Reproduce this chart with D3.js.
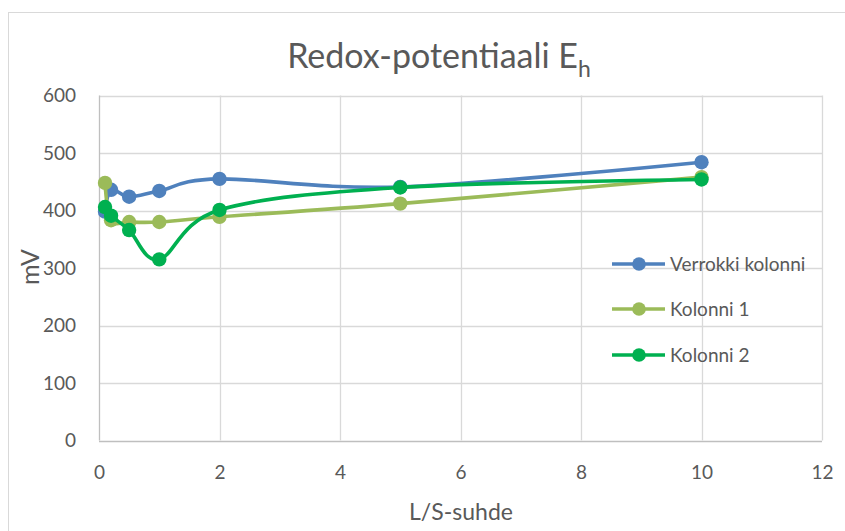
<!DOCTYPE html>
<html>
<head>
<meta charset="utf-8">
<script src="https://cdn.jsdelivr.net/npm/d3@7"></script>
<style>
  html, body { margin: 0; padding: 0; background: #fff; }
  svg { display: block; }
  text { font-family: Lato, "Open Sans", sans-serif; fill: #595959; }
</style>
</head>
<body>
<svg id="chart" width="845" height="531"></svg>
<script>
// L/S ratio at each sampling point
const lsRatio = [0.1, 0.2, 0.5, 1, 2, 5, 10];

// Redox potential (mV) per column
const verrokki = [398, 436, 424, 434, 455, 441, 484];
const kolonni1 = [448, 383, 380, 380, 389, 412, 458];
const kolonni2 = [406, 391, 366, 315, 401, 440, 454];

const seriesNames = ["Verrokki kolonni", "Kolonni 1", "Kolonni 2"];
const seriesColors = ["#4f81bd", "#9bbb59", "#00b050"];
const seriesValues = [verrokki, kolonni1, kolonni2];

const xTicks = [0, 2, 4, 6, 8, 10, 12];
const yTicks = [0, 100, 200, 300, 400, 500, 600];

const svg = d3.select("#chart");

// outer chart frame
svg.append("rect")
  .attr("x", 8.5).attr("y", 12.5)
  .attr("width", 845).attr("height", 531)
  .attr("fill", "none").attr("stroke", "#d9d9d9").attr("stroke-width", 1);

const plot = { left: 99, right: 822, top: 95.5, bottom: 440.5 };

const x = d3.scaleLinear().domain([0, 12]).range([plot.left, plot.right]);
const y = d3.scaleLinear().domain([0, 600]).range([plot.bottom, plot.top]);

// gridlines
const grid = svg.append("g");
grid.selectAll("line.h").data(yTicks).join("line")
  .attr("x1", plot.left).attr("x2", plot.right)
  .attr("y1", d => Math.round(y(d)) + 0.5).attr("y2", d => Math.round(y(d)) + 0.5)
  .attr("stroke", d => d === 0 ? "#bfbfbf" : "#d9d9d9").attr("stroke-width", 1.3);
grid.selectAll("line.v").data(xTicks).join("line")
  .attr("y1", plot.top).attr("y2", plot.bottom)
  .attr("x1", d => Math.round(x(d)) + 0.5).attr("x2", d => Math.round(x(d)) + 0.5)
  .attr("stroke", d => d === 0 ? "#bfbfbf" : "#d9d9d9").attr("stroke-width", 1.3);

// axis tick labels via d3 axes (lines hidden, labels only)
const yAxis = svg.append("g")
  .attr("transform", `translate(${plot.left},0)`)
  .call(d3.axisLeft(y).tickValues(yTicks).tickSize(0).tickPadding(23));
const xAxis = svg.append("g")
  .attr("transform", `translate(0,${plot.bottom})`)
  .call(d3.axisBottom(x).tickValues(xTicks).tickSize(0).tickPadding(25));
[yAxis, xAxis].forEach(a => {
  a.select(".domain").remove();
  a.selectAll("text").attr("font-size", 19).attr("font-family", "Lato, sans-serif").attr("fill", "#595959");
});

// axis titles
svg.append("text")
  .attr("x", 461).attr("y", 520)
  .attr("text-anchor", "middle").attr("font-size", 23)
  .text("L/S-suhde");
svg.append("text")
  .attr("transform", "translate(39,267) rotate(-90)")
  .attr("text-anchor", "middle").attr("font-size", 25)
  .text("mV");

// title with subscript
const title = svg.append("text")
  .attr("x", 439).attr("y", 68)
  .attr("text-anchor", "middle").attr("font-size", 34);
title.append("tspan").text("Redox-potentiaali E");
title.append("tspan").attr("font-size", 23).attr("dy", 9).text("h");

// series lines and markers
const line = d3.line()
  .x(d => x(d[0])).y(d => y(d[1]))
  .curve(d3.curveCardinal.tension(0));

seriesValues.forEach((vals, i) => {
  const pts = lsRatio.map((r, j) => [r, vals[j]]);
  const g = svg.append("g");
  g.append("path")
    .attr("d", line(pts))
    .attr("fill", "none")
    .attr("stroke", seriesColors[i])
    .attr("stroke-width", 3.6)
    .attr("stroke-linejoin", "round")
    .attr("stroke-linecap", "round");
  g.selectAll("circle").data(pts).join("circle")
    .attr("cx", d => x(d[0])).attr("cy", d => y(d[1]))
    .attr("r", 7.2)
    .attr("fill", seriesColors[i]);
});

// legend
const legendY = [264, 309, 355];
const legend = svg.append("g");
seriesNames.forEach((name, i) => {
  const row = legend.append("g").attr("transform", `translate(0,${legendY[i]})`);
  row.append("line")
    .attr("x1", 612).attr("x2", 665).attr("y1", 0).attr("y2", 0)
    .attr("stroke", seriesColors[i]).attr("stroke-width", 3.6);
  row.append("circle").attr("cx", 639).attr("cy", 0).attr("r", 6.8).attr("fill", seriesColors[i]);
  row.append("text").attr("x", 670).attr("y", 0).attr("dy", "0.35em")
    .attr("font-size", 19).text(name);
});
</script>
</body>
</html>
